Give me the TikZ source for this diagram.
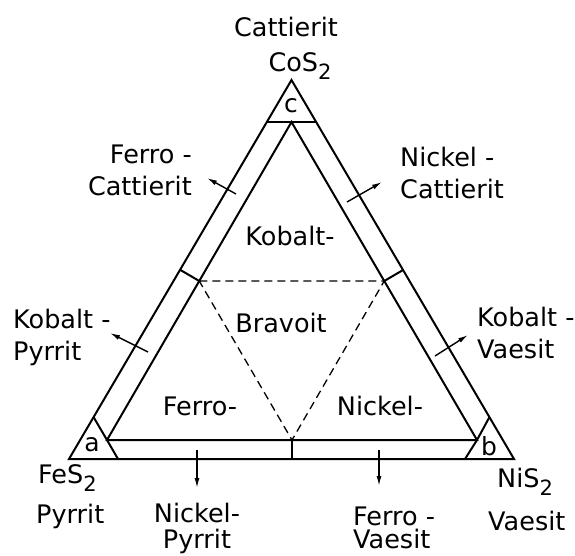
\documentclass[tikz,border=0pt]{standalone}
\usepackage{fontspec}
\setmainfont{DejaVu Sans}
\usetikzlibrary{arrows.meta,calc}

\newcommand{\subidx}[1]{\raisebox{-8pt}{\fontsize{21}{24}\selectfont #1}}

\begin{document}
\begin{tikzpicture}[
    x=1pt, y=-1pt,
    edge/.style={line width=2pt, line join=miter},
    tick/.style={line width=2pt},
    split/.style={line width=1.3pt, dash pattern=on 8pt off 5pt},
    outarrow/.style={-{Latex[length=10pt,width=5pt]}, line width=1.4pt},
    lab/.style={inner sep=0pt, font=\fontsize{25.5}{32}\selectfont},
    corner/.style={inner sep=0pt, font=\fontsize{25}{28}\selectfont},
]
\useasboundingbox (0,0) rectangle (575,555);

% Outer and inner triangle
\coordinate (A) at (69,459);
\coordinate (B) at (514,459);
\coordinate (C) at (291.5,80);
\coordinate (Ai) at (107,440);
\coordinate (Bi) at (477,440);
\coordinate (Ci) at (291.5,122);
\draw[edge] (A) -- (B) -- (C) -- cycle;
\draw[edge] (Ai) -- (Bi) -- (Ci) -- cycle;

% Corner fields a, b, c
\draw[edge] (93.5,417) -- (Ai) -- (118,459);
\draw[edge] (489.5,417) -- (Bi) -- (465,459);
\draw[edge] (267,122) -- (Ci) -- (316,122);
\node[corner] (la) at (92,445) {a};
\node[corner] (lb) at (489,446) {b};
\node[corner] (lc) at (291,106) {c};

% Midpoints of the inner sides
\coordinate (Mab) at ($(Ai)!0.5!(Bi)$);
\coordinate (Mbc) at ($(Bi)!0.5!(Ci)$);
\coordinate (Mca) at ($(Ci)!0.5!(Ai)$);
\draw[tick] (Mca) -- ($(A)!(Mca)!(C)$);
\draw[tick] (Mbc) -- ($(B)!(Mbc)!(C)$);
\draw[tick, line width=2.8pt] (Mab) -- ($(A)!(Mab)!(B)$);
\draw[split] (Mca) -- (Mbc) -- (Mab) -- cycle;

% Fields inside
\node[lab, anchor=base] (kobalt) at (290,245) {Kobalt-};
\node[lab, anchor=base] (bravoit) at (281,332) {Bravoit};
\node[lab, anchor=base] (ferro) at (200,415) {Ferro-};
\node[lab, anchor=base] (nickel) at (380,415) {Nickel-};

% End members
\node[lab, anchor=base] (cattierit) at (286,36) {Cattierit};
\node[lab, anchor=base] (cos) at (300,71) {CoS\subidx{2}};
\node[lab, anchor=base west] (fes) at (38,483) {FeS\subidx{2}};
\node[lab, anchor=base west] (pyrrit) at (36,523) {Pyrrit};
\node[lab, anchor=base west] (nis) at (497,487) {NiS\subidx{2}};
\node[lab, anchor=base west] (vaesit) at (488,530) {Vaesit};

% Mixed members along the band
\node[lab, align=right, anchor=north east] (ferrocat) at (192,145) {Ferro -\\Cattierit};
\node[lab, align=left, anchor=north west] (kobpyr) at (13,309) {Kobalt -\\Pyrrit};
\node[lab, align=left, anchor=north west] (nickcat) at (400,147) {Nickel -\\Cattierit};
\node[lab, align=left, anchor=north west] (kobvae) at (477,307) {Kobalt -\\Vaesit};
\node[lab, align=center, anchor=north] (nickpyr) at (197,503) {Nickel-\\[-6pt]Pyrrit};
\node[lab, align=left, anchor=north west] (ferrovae) at (353,507) {Ferro -\\[-9pt]Vaesit};

% Arrows out of the band
\coordinate (fc0) at (236,194);  \coordinate (fc1) at (207,178);
\coordinate (kp0) at (148,352);  \coordinate (kp1) at (110,333);
\coordinate (nc0) at (347,202);  \coordinate (nc1) at (382,182);
\coordinate (kv0) at (435,356);  \coordinate (kv1) at (468,335);
\coordinate (np0) at (197,450);  \coordinate (np1) at (197,488);
\coordinate (fv0) at (379,450);  \coordinate (fv1) at (379,486);
\draw[outarrow] (fc0) -- (fc1);
\draw[outarrow] (kp0) -- (kp1);
\draw[outarrow] (nc0) -- (nc1);
\draw[outarrow] (kv0) -- (kv1);
\draw[outarrow] (np0) -- (np1);
\draw[outarrow] (fv0) -- (fv1);

\end{tikzpicture}
\end{document}
